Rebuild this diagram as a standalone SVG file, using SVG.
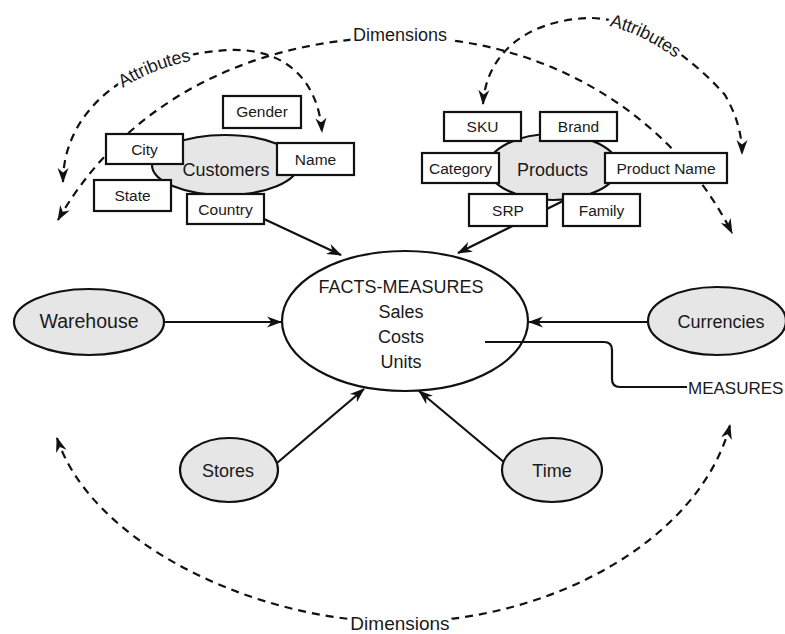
<svg xmlns="http://www.w3.org/2000/svg" width="785" height="634" viewBox="0 0 785 634">
  <defs>
    <marker id="ah" viewBox="0 0 15 12" refX="14" refY="6" markerWidth="15" markerHeight="12" markerUnits="userSpaceOnUse" orient="auto-start-reverse">
      <path d="M0,0.5 L15,6 L0,11.5 L4.5,6 z" fill="#111" stroke="none"/>
    </marker>
    <path id="attrLeftPath" d="M 63 182 C 63 110 130 55 230 50 C 285 48 318 80 322 132"/>
    <path id="attrRightPath" d="M 483 104 C 486 55 525 20 590 18 C 635 18 690 55 725 95 C 737 116 742 135 742 154"/>
  </defs>
  <style>
    text { font-family: "Liberation Sans", Arial, Helvetica, sans-serif; fill: #1a1a1a; }
    .dim { font-size: 18px; text-anchor: middle; }
    .box { fill: #fff; stroke: #111; stroke-width: 2.2; }
    .boxlabel { font-size: 15.5px; text-anchor: middle; }
    .dimnode { fill: #e6e6e6; stroke: #111; stroke-width: 2.2; }
    .facts { fill: #fff; stroke: #111; stroke-width: 2.2; }
    .label { font-size: 18px; text-anchor: middle; }
    .conn { fill: none; stroke: #111; stroke-width: 2.2; }
    .arrow { marker-end: url(#ah); }
    .dashed { fill: none; stroke: #111; stroke-width: 2.2; stroke-dasharray: 8 6; }
    .halo { fill: #fff; stroke: #fff; stroke-width: 8; stroke-linejoin: round; }
  </style>

  <rect width="785" height="634" fill="#fff"/>

  <!-- dashed "Dimensions" / "Attributes" arcs -->
  <g id="arcs">
    <path class="dashed" d="M 58 220 C 130 95 260 38 400 37 C 540 37 670 110 732 233" marker-start="url(#ah)" marker-end="url(#ah)"/>
    <path class="dashed" d="M 57 438 C 90 540 250 622 400 622 C 550 622 700 540 730 425" marker-start="url(#ah)" marker-end="url(#ah)"/>
    <use href="#attrLeftPath" class="dashed" marker-start="url(#ah)" marker-end="url(#ah)"/>
    <use href="#attrRightPath" class="dashed" marker-start="url(#ah)" marker-end="url(#ah)"/>
    <!-- white knock-outs behind the arc labels -->
    <text class="dim halo" x="400" y="41">Dimensions</text>
    <text class="dim halo" x="400" y="630" style="font-size:19px">Dimensions</text>
    <text class="dim halo" dy="6"><textPath href="#attrLeftPath" startOffset="157">Attributes</textPath></text>
    <text class="dim halo" dy="6"><textPath href="#attrRightPath" startOffset="211">Attributes</textPath></text>
    <!-- arc labels -->
    <text class="dim" x="400" y="41">Dimensions</text>
    <text class="dim" x="400" y="630" style="font-size:19px">Dimensions</text>
    <text class="dim" dy="6"><textPath href="#attrLeftPath" startOffset="157">Attributes</textPath></text>
    <text class="dim" dy="6"><textPath href="#attrRightPath" startOffset="211">Attributes</textPath></text>
  </g>

  <!-- connectors into the fact table -->
  <g id="connectors">
    <line class="conn arrow" x1="264" y1="219" x2="341" y2="255"/>
    <line class="conn arrow" x1="565" y1="200" x2="458" y2="253"/>
    <line class="conn arrow" x1="164" y1="322" x2="281" y2="322"/>
    <line class="conn arrow" x1="648" y1="322" x2="529" y2="322"/>
    <line class="conn arrow" x1="277" y1="463" x2="364" y2="389"/>
    <line class="conn arrow" x1="505" y1="463" x2="419" y2="391"/>
  </g>

  <!-- Customers dimension with its attributes -->
  <g id="customers">
    <ellipse class="dimnode" cx="225" cy="165" rx="73" ry="30"/>
    <text class="label" x="226" y="176">Customers</text>
  </g>
  <g id="gender"><rect class="box" x="223" y="96" width="78" height="32"/><text class="boxlabel" x="262" y="117">Gender</text></g>
  <g id="city"><rect class="box" x="106" y="134" width="77" height="30"/><text class="boxlabel" x="144.5" y="154.5">City</text></g>
  <g id="name"><rect class="box" x="277" y="143" width="77" height="32"/><text class="boxlabel" x="315.5" y="164.5">Name</text></g>
  <g id="state"><rect class="box" x="94" y="180" width="77" height="31"/><text class="boxlabel" x="132.5" y="201">State</text></g>
  <g id="country"><rect class="box" x="187" y="194" width="77" height="30"/><text class="boxlabel" x="225.5" y="214.5">Country</text></g>

  <!-- Products dimension with its attributes -->
  <g id="products">
    <ellipse class="dimnode" cx="553" cy="167" rx="65" ry="33"/>
    <text class="label" x="552.5" y="176">Products</text>
  </g>
  <g id="sku"><rect class="box" x="444" y="112" width="77" height="29"/><text class="boxlabel" x="482.5" y="132">SKU</text></g>
  <g id="brand"><rect class="box" x="540" y="112" width="77" height="29"/><text class="boxlabel" x="578.5" y="132">Brand</text></g>
  <g id="category"><rect class="box" x="422" y="153" width="77" height="30"/><text class="boxlabel" x="460.5" y="173.5">Category</text></g>
  <g id="product-name"><rect class="box" x="605" y="153" width="122" height="30"/><text class="boxlabel" x="666" y="173.5">Product Name</text></g>
  <g id="srp"><rect class="box" x="469" y="194" width="78" height="32"/><text class="boxlabel" x="508" y="215.5">SRP</text></g>
  <g id="family"><rect class="box" x="563" y="194" width="77" height="32"/><text class="boxlabel" x="601.5" y="215.5">Family</text></g>

  <!-- fact table -->
  <g id="facts">
    <ellipse class="facts" cx="405" cy="321" rx="123" ry="70"/>
    <text class="label" x="401" y="293">FACTS-MEASURES</text>
    <text class="label" x="401" y="318">Sales</text>
    <text class="label" x="401" y="343">Costs</text>
    <text class="label" x="401" y="368">Units</text>
  </g>

  <!-- measures callout -->
  <g id="measures">
    <path class="conn" d="M 485 342 H 604 Q 612 342 612 350 V 379 Q 612 387 620 387 H 687"/>
    <text x="688" y="394" style="font-size:17px">MEASURES</text>
  </g>

  <g id="warehouse">
    <ellipse class="dimnode" cx="89" cy="322" rx="75" ry="33"/>
    <text class="label" x="89" y="328" style="font-size:19.5px">Warehouse</text>
  </g>
  <g id="currencies">
    <ellipse class="dimnode" cx="717" cy="321" rx="69" ry="34"/>
    <text class="label" x="721" y="328">Currencies</text>
  </g>
  <g id="stores">
    <ellipse class="dimnode" cx="229" cy="470" rx="49" ry="32"/>
    <text class="label" x="228" y="477">Stores</text>
  </g>
  <g id="time">
    <ellipse class="dimnode" cx="552" cy="470" rx="50" ry="32"/>
    <text class="label" x="552" y="477">Time</text>
  </g>
</svg>
